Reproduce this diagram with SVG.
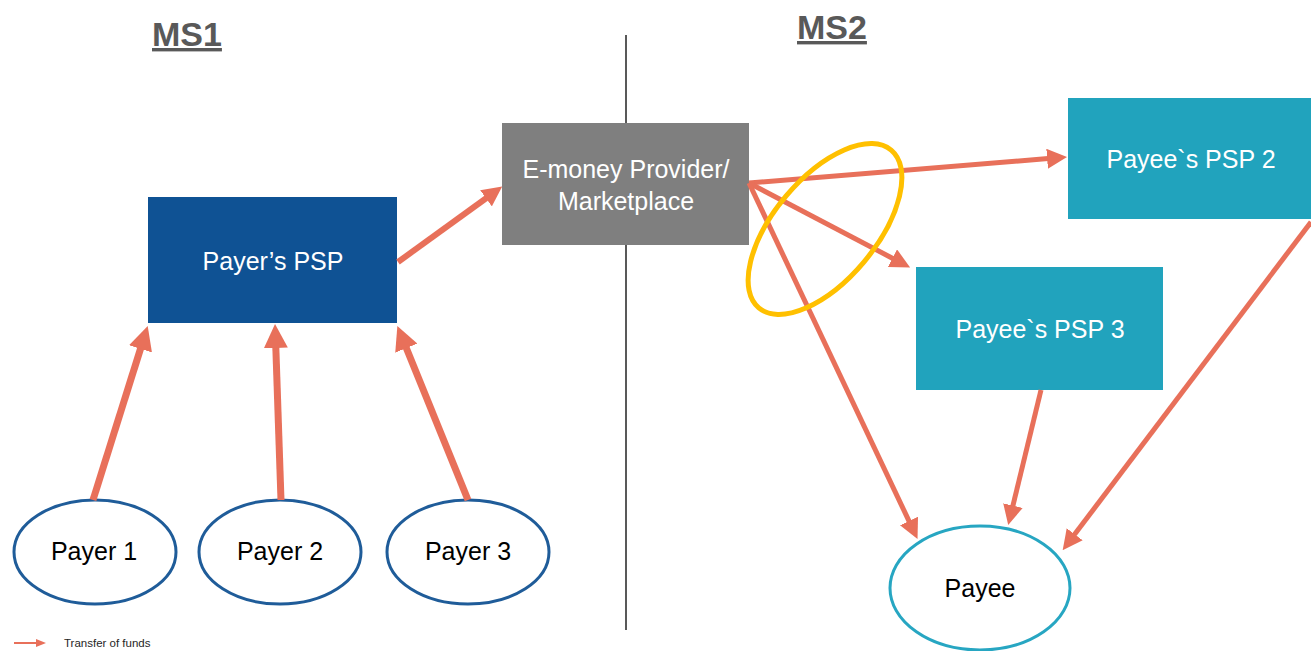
<svg xmlns="http://www.w3.org/2000/svg" width="1311" height="651" viewBox="0 0 1311 651">
<style>
.t{font-family:"Liberation Sans",Arial,sans-serif;font-size:25px;text-anchor:middle}
.w{fill:#ffffff}
.k{fill:#000000}
.ms{font-family:"Liberation Sans",Arial,sans-serif;font-size:34px;font-weight:bold;fill:#595959;text-decoration:underline}
.a{stroke:#E8705A;fill:none}
.payer{fill:#ffffff;stroke:#1F5C99;stroke-width:3}
</style>
<defs>
<marker id="hb" markerUnits="userSpaceOnUse" markerWidth="24" markerHeight="24" viewBox="0 0 24 24" refX="1" refY="12" orient="auto"><path d="M0,0 L24,12 L0,24 z" fill="#E8705A"/></marker>
<marker id="hs" markerUnits="userSpaceOnUse" markerWidth="20" markerHeight="20" viewBox="0 0 20 20" refX="1" refY="10" orient="auto"><path d="M0,0 L20,10 L0,20 z" fill="#E8705A"/></marker>
<marker id="hl" markerUnits="userSpaceOnUse" markerWidth="10" markerHeight="8" viewBox="0 0 10 8" refX="1" refY="4" orient="auto"><path d="M0,0 L10,4 L0,8 z" fill="#E8705A"/></marker>
</defs>
<rect width="1311" height="651" fill="#ffffff"/>
<line x1="626" y1="35" x2="626" y2="630" stroke="#595959" stroke-width="2"/>
<text class="ms" x="152" y="46">MS1</text>
<text class="ms" x="797" y="39">MS2</text>
<g id="payers-psp"><rect x="148" y="197" width="249" height="126" fill="#0F5294"/><text class="t w" x="273" y="270">Payer’s PSP</text></g>
<g id="emoney"><rect x="502" y="123" width="247" height="122" fill="#7F7F7F"/><text class="t w" x="626" y="178">E-money Provider/</text><text class="t w" x="626" y="210">Marketplace</text></g>
<g id="payee-psp2"><rect x="1068" y="98" width="250" height="121" fill="#21A3BD"/><text class="t w" x="1191" y="168">Payee`s PSP 2</text></g>
<g id="payee-psp3"><rect x="916" y="267" width="247" height="123" fill="#21A3BD"/><text class="t w" x="1040" y="338">Payee`s PSP 3</text></g>
<g id="payer1"><ellipse class="payer" cx="95" cy="552" rx="81" ry="52"/><text class="t k" x="94" y="560">Payer 1</text></g>
<g id="payer2"><ellipse class="payer" cx="280" cy="552" rx="81" ry="52"/><text class="t k" x="280" y="560">Payer 2</text></g>
<g id="payer3"><ellipse class="payer" cx="468" cy="552" rx="81" ry="52"/><text class="t k" x="468" y="560">Payer 3</text></g>
<g id="payee"><ellipse cx="980" cy="588" rx="90" ry="62" fill="#ffffff" stroke="#27A6C2" stroke-width="3"/><text class="t k" x="980" y="597">Payee</text></g>
<g id="connectors">
<line class="a" stroke-width="7" x1="93" y1="500" x2="140.8" y2="347.9" marker-end="url(#hb)"/>
<line class="a" stroke-width="7" x1="281" y1="500" x2="275.8" y2="347" marker-end="url(#hb)"/>
<line class="a" stroke-width="7" x1="468" y1="500" x2="406" y2="347.2" marker-end="url(#hb)"/>
<line class="a" stroke-width="6" x1="398" y1="262" x2="486.8" y2="197.7" marker-end="url(#hs)"/>
<line class="a" stroke-width="5" x1="749" y1="183" x2="1048.1" y2="158.6" marker-end="url(#hs)"/>
<line class="a" stroke-width="5" x1="749" y1="183" x2="893.3" y2="258.7" marker-end="url(#hs)"/>
<line class="a" stroke-width="5" x1="749" y1="183" x2="909.4" y2="521.9" marker-end="url(#hs)"/>
<line class="a" stroke-width="5" x1="1041" y1="390" x2="1012.7" y2="506.6" marker-end="url(#hs)"/>
<line class="a" stroke-width="5" x1="1311" y1="222" x2="1074.1" y2="535.05" marker-end="url(#hs)"/>
</g>
<ellipse cx="825" cy="229" rx="103" ry="51" transform="rotate(-50 825 229)" fill="none" stroke="#FFC000" stroke-width="5"/>
<g id="legend">
<line class="a" stroke-width="2" x1="14" y1="643" x2="37" y2="643" marker-end="url(#hl)"/>
<text x="64" y="647" font-family="'Liberation Sans',Arial,sans-serif" font-size="11.5" fill="#262626">Transfer of funds</text>
</g>
</svg>
